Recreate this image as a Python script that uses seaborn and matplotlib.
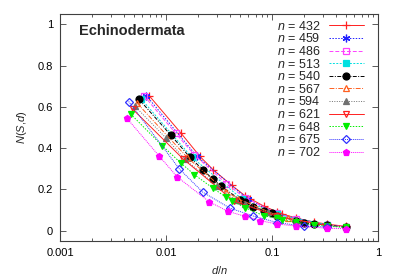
import numpy as np
import seaborn as sns
import matplotlib
matplotlib.use("Agg")
import matplotlib.pyplot as plt
from matplotlib.ticker import LogLocator, NullFormatter, FixedLocator

# system sizes n and the distances d used for each one
sizes = [432, 459, 486, 513, 540, 567, 594, 621, 648, 675, 702]

d_432 = [3, 6, 9, 12, 18, 24, 27, 36, 48, 54, 72, 108, 144, 216]
y_432 = [0.654, 0.472, 0.361, 0.296, 0.22, 0.17, 0.155, 0.12, 0.092, 0.082, 0.062, 0.042, 0.032, 0.021]

d_459 = [3, 9, 27, 51, 153]
y_459 = [0.654, 0.36, 0.155, 0.082, 0.026]

d_486 = [3, 6, 9, 18, 27, 54, 81, 162, 243]
y_486 = [0.655, 0.472, 0.368, 0.228, 0.16, 0.085, 0.058, 0.028, 0.02]

d_513 = [3, 9, 27, 57, 171]
y_513 = [0.638, 0.356, 0.152, 0.08, 0.028]

d_540 = [3, 6, 9, 12, 15, 18, 27, 30, 36, 45, 54, 60, 90, 108, 135, 180, 270]
y_540 = [0.637, 0.463, 0.358, 0.296, 0.249, 0.216, 0.15, 0.138, 0.117, 0.098,
         0.084, 0.073, 0.049, 0.04, 0.033, 0.029, 0.016]

d_567 = [3, 9, 21, 27, 63, 81, 189]
y_567 = [0.62, 0.355, 0.19, 0.155, 0.075, 0.06, 0.025]

d_594 = [3, 6, 9, 18, 27, 33, 54, 66, 99, 198, 297]
y_594 = [0.605, 0.447, 0.346, 0.215, 0.15, 0.13, 0.09, 0.075, 0.05, 0.025, 0.018]

d_621 = [3, 9, 27, 69, 207]
y_621 = [0.59, 0.348, 0.145, 0.07, 0.025]

d_648 = [3, 6, 9, 12, 18, 24, 27, 36, 54, 72, 81, 108, 162, 216, 324]
y_648 = [0.566, 0.411, 0.327, 0.272, 0.206, 0.162, 0.146, 0.112, 0.073, 0.06,
         0.052, 0.042, 0.028, 0.022, 0.016]

d_675 = [3, 9, 15, 27, 45, 75, 135, 225]
y_675 = [0.626, 0.30, 0.187, 0.11, 0.071, 0.04, 0.022, 0.018]

d_702 = [3, 6, 9, 18, 27, 39, 54, 78, 117, 234, 351]
y_702 = [0.545, 0.364, 0.26, 0.14, 0.094, 0.07, 0.049, 0.033, 0.023, 0.012, 0.01]

d_lists = [d_432, d_459, d_486, d_513, d_540, d_567, d_594, d_621, d_648, d_675, d_702]
y_lists = [y_432, y_459, y_486, y_513, y_540, y_567, y_594, y_621, y_648, y_675, y_702]

# gnuplot-like styles: (color, marker, size, open marker?, linestyle)
styles = [
    ("#ff2020", "+", 6, False, "-"),
    ("#2020ff", (6, 2, 0), 5.5, False, (0, (1.5, 1.5))),
    ("#ff40ff", "s", 4.5, True, (0, (4, 2))),
    ("#00e0e0", "s", 4.5, False, (0, (2, 1.5))),
    ("#000000", "o", 5, False, (0, (4, 1.5, 1, 1.5))),
    ("#ff6020", "^", 5, True, (0, (5, 1.5, 1, 1.5))),
    ("#707070", "^", 5, False, (0, (1, 1.5))),
    ("#ff2020", "v", 5, True, "-"),
    ("#00ee00", "v", 5, False, (0, (1.5, 1.5))),
    ("#3030ff", "D", 4, True, (0, (1, 1))),
    ("#ff00ff", "p", 4.5, False, (0, (1, 1))),
]

sns.set_style("ticks")
plt.rcParams['font.family'] = ['Liberation Sans', 'DejaVu Sans']
plt.rcParams['mathtext.fontset'] = 'custom'
plt.rcParams['mathtext.it'] = 'Liberation Sans:italic'
plt.rcParams['mathtext.rm'] = 'Liberation Sans'

fig, ax = plt.subplots(figsize=(4, 2.8), dpi=100)
fig.subplots_adjust(left=0.15, right=0.945, top=0.95, bottom=0.139)

for n, d, y, (col, mk, ms, hollow, ls) in zip(sizes, d_lists, y_lists, styles):
    x = np.array(d) / n
    kw = dict(markerfacecolor="none") if hollow else {}
    sns.lineplot(x=x, y=y, ax=ax, color=col, marker=mk, markersize=ms,
                 linestyle=ls, linewidth=0.7, markeredgecolor=col,
                 markeredgewidth=0.9, label=f"$n$ = {n}", sort=False, **kw)

ax.set_xscale("log")
ax.set_xlim(0.001, 1)
ax.set_ylim(-0.05, 1.05)
ax.set_xticks([0.001, 0.01, 0.1, 1])
ax.set_xticklabels(["0.001", "0.01", "0.1", "1"])
ax.xaxis.set_minor_locator(LogLocator(base=10, subs=np.arange(2, 10)))
ax.xaxis.set_minor_formatter(NullFormatter())
ax.yaxis.set_major_locator(FixedLocator([0, 0.2, 0.4, 0.6, 0.8, 1.0]))
ax.set_yticklabels(["0", "0.2", "0.4", "0.6", "0.8", "1"])

ax.tick_params(which="both", direction="in", top=True, right=True,
               labelsize=8, colors="#404040", labelcolor="black")
ax.tick_params(which="major", length=4, width=0.6, pad=5)
ax.tick_params(which="minor", length=2, width=0.6)
for sp in ax.spines.values():
    sp.set_color("#404040")
    sp.set_linewidth(0.8)

ax.set_xlabel("$d$/$n$", fontsize=8)
ax.set_ylabel("$N$($S$,$d$)", fontsize=8, labelpad=6)

ax.text(0.06, 0.925, "Echinodermata", transform=ax.transAxes,
        fontsize=10.5, fontweight="bold", va="center")

ax.legend(loc="upper right", bbox_to_anchor=(0.955, 0.975), frameon=False,
          markerfirst=False, fontsize=9, handlelength=2.8, handletextpad=0.65,
          labelspacing=-0.03, borderaxespad=0.0, borderpad=0.0)

plt.savefig("out.png", dpi=100)
